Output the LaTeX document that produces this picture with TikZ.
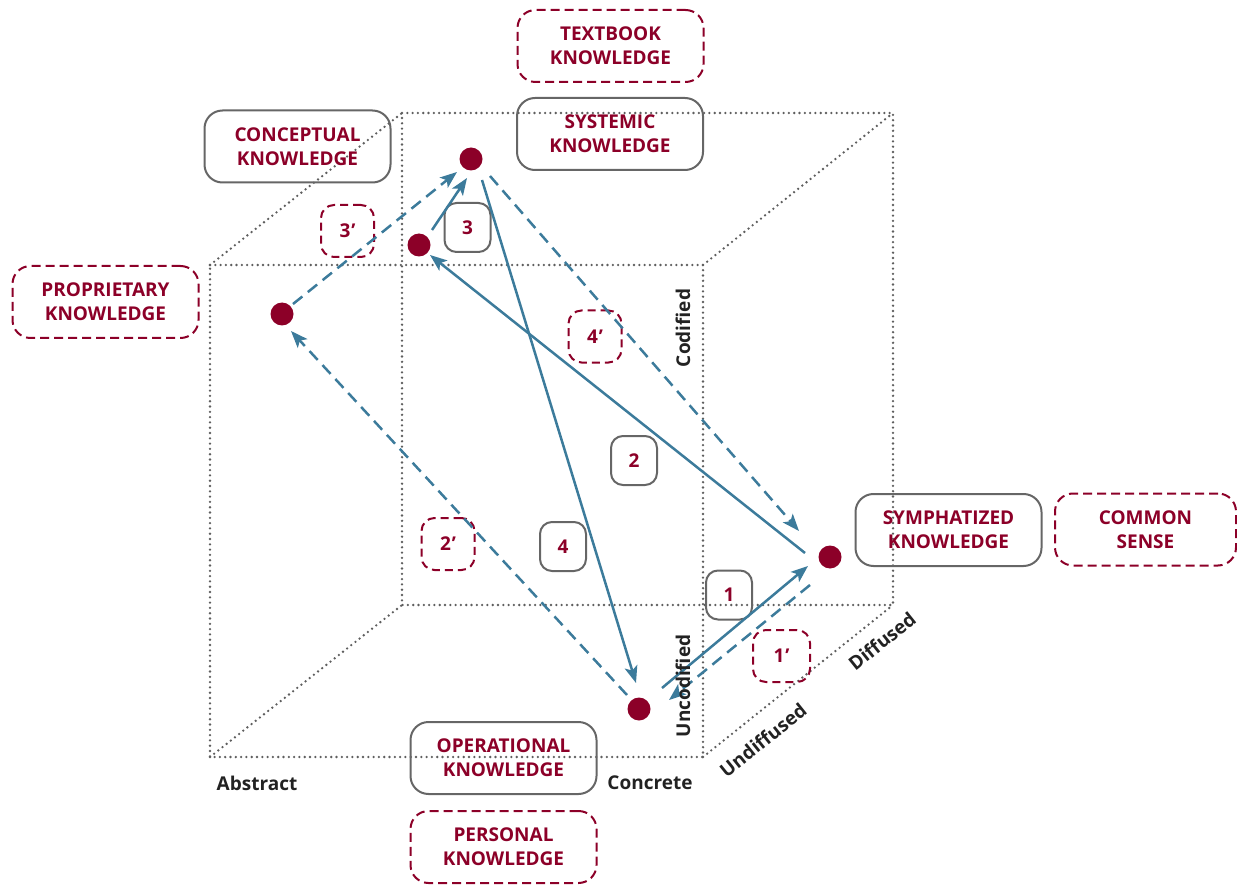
\documentclass[tikz,border=0pt]{standalone}
\usepackage{fontspec}
\setmainfont{Open Sans}
\usetikzlibrary{arrows.meta}
\definecolor{kred}{HTML}{8C0028}
\definecolor{kblue}{HTML}{3C7B9B}
\definecolor{kgray}{HTML}{666666}
\definecolor{dotgray}{HTML}{5E5E5E}
\definecolor{ktext}{HTML}{222222}
\tikzset{
  cube/.style={dotgray, line width=2.6pt, line cap=round, dash pattern=on 0pt off 5.3pt},
  bigbox/.style={draw=kgray, line width=2pt, rounded corners=18pt, minimum width=186pt, minimum height=72pt, align=center, text=kred, font=\fontsize{19}{24}\selectfont\bfseries, inner sep=0pt},
  bigdash/.style={draw=kred, line width=2pt, dash pattern=on 9pt off 5pt, rounded corners=18pt, minimum width=186pt, minimum height=72pt, align=center, text=kred, font=\fontsize{19}{24}\selectfont\bfseries, inner sep=0pt},
  numbox/.style={draw=kgray, line width=2pt, rounded corners=12pt, minimum width=46pt, minimum height=49pt, text=kred, font=\fontsize{19}{22}\selectfont\bfseries, inner sep=0pt},
  numdash/.style={draw=kred, line width=2pt, dash pattern=on 8pt off 5pt, rounded corners=13pt, minimum width=53pt, minimum height=52pt, text=kred, font=\fontsize{19}{22}\selectfont\bfseries, inner sep=0pt},
  kdot/.style={circle, fill=kred, minimum size=23pt, inner sep=0pt},
  flow/.style={kblue, line width=2.5pt, -{Stealth[length=17pt,width=13pt,inset=4pt]}},
  flowd/.style={flow, dash pattern=on 12pt off 7pt},
  axis/.style={text=ktext, font=\fontsize{19}{22}\selectfont\bfseries, inner sep=0pt}
}
\begin{document}
\begin{tikzpicture}[x=1pt,y=-1pt]
\useasboundingbox (0,0) rectangle (1237,885);
% cube
\coordinate (f1) at (210,265); \coordinate (f2) at (703,265);
\coordinate (f3) at (703,757); \coordinate (f4) at (210,757);
\coordinate (b1) at (402,113); \coordinate (b2) at (893,113);
\coordinate (b3) at (893,605); \coordinate (b4) at (402,605);
\draw[cube] (f1) -- (f2) -- (f3) -- (f4) -- cycle;
\draw[cube] (b1) -- (b2) -- (b3) -- (b4) -- cycle;
\draw[cube] (f1) -- (b1);
\draw[cube] (f2) -- (b2);
\draw[cube] (f3) -- (b3);
\draw[cube] (f4) -- (b4);
% label boxes
\node[bigdash] (textbook) at (610.5,46) {TEXTBOOK\\KNOWLEDGE};
\node[bigbox] (concept) at (297.5,146.5) {CONCEPTUAL\\KNOWLEDGE};
\node[bigbox] (systemic) at (610,134) {SYSTEMIC\\KNOWLEDGE};
\node[bigdash] (propr) at (105.5,302) {PROPRIETARY\\KNOWLEDGE};
\node[bigbox] (symph) at (948.5,530) {SYMPHATIZED\\KNOWLEDGE};
\node[bigdash, minimum width=181pt] (common) at (1145.5,529.5) {COMMON\\SENSE};
\node[bigbox] (oper) at (503.5,758) {OPERATIONAL\\KNOWLEDGE};
\node[bigdash] (personal) at (503.5,847) {PERSONAL\\KNOWLEDGE};
% number boxes
\node[numbox] (n3) at (467.5,227.5) {3};
\node[numbox] (n2) at (634,460.5) {2};
\node[numbox] (n4) at (563,546.5) {4};
\node[numbox] (n1) at (729,595) {1};
\node[numdash] (n3p) at (347.5,231) {3\kern1pt\char"2019};
\node[numdash] (n4p) at (595,336.5) {4\kern1pt\char"2019};
\node[numdash] (n2p) at (448,544) {2\kern1pt\char"2019};
\node[numdash, minimum width=57pt] (n1p) at (781.5,656) {1\kern1pt\char"2019};
% dots
\node[kdot] (dsys) at (471,159) {};
\node[kdot] (dcon) at (419,245) {};
\node[kdot] (dpro) at (282,314) {};
\node[kdot] (dsym) at (830,557) {};
\node[kdot] (dope) at (639,709) {};
% arrow end points
\coordinate (a1s) at (662,688); \coordinate (a1e) at (808,566);
\coordinate (a1ps) at (810,585); \coordinate (a1pe) at (669,700);
\coordinate (a2s) at (805,553); \coordinate (a2e) at (430,255);
\coordinate (a2ps) at (627,695); \coordinate (a2pe) at (291,331);
\coordinate (a3s) at (432,230); \coordinate (a3e) at (467,178);
\coordinate (a3ps) at (293,304); \coordinate (a3pe) at (457,172);
\coordinate (a4s) at (482,180); \coordinate (a4e) at (636,683);
\coordinate (a4ps) at (490,176); \coordinate (a4pe) at (799,531);
\draw[flow] (a1s) -- (a1e);
\draw[flowd] (a1ps) -- (a1pe);
\draw[flow] (a2s) -- (a2e);
\draw[flowd] (a2ps) -- (a2pe);
\draw[flow] (a3s) -- (a3e);
\draw[flowd] (a3ps) -- (a3pe);
\draw[flow] (a4s) -- (a4e);
\draw[flowd] (a4ps) -- (a4pe);
% axis labels
\node[axis] (abstract) at (257,783) {Abstract};
\node[axis] (concrete) at (650,783) {Concrete};
\node[axis, rotate=90] (codified) at (683,328) {Codified};
\node[axis, rotate=90] (uncodified) at (683,686) {Uncodified};
\node[axis, rotate=38.7] (undiff) at (763,740) {Undiffused};
\node[axis, rotate=38.7] (diff) at (882,641) {Diffused};
\end{tikzpicture}
\end{document}
